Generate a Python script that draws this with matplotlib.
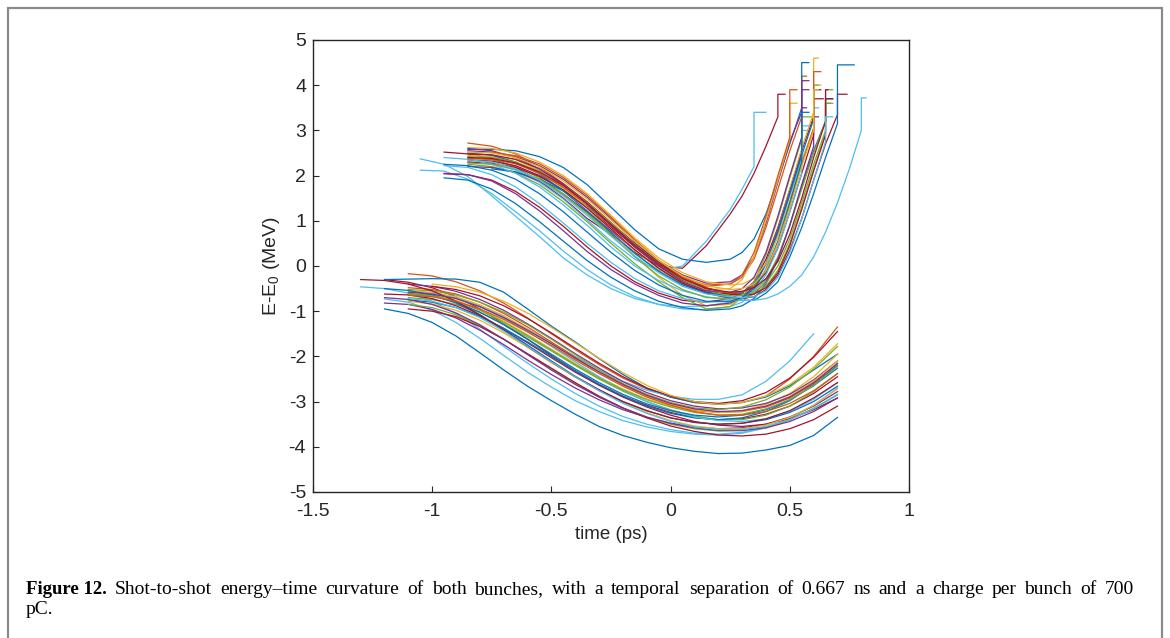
import numpy as np
import matplotlib
matplotlib.use("Agg")
import matplotlib.pyplot as plt
from matplotlib.patches import Rectangle

# -------------------------------
# Data
# -------------------------------
# upper bunch: shared time grid (ps), one row of E-E0 (MeV) per shot
t_up = [-1.05, -0.95, -0.85, -0.75, -0.65, -0.55, -0.45, -0.35, -0.25, -0.15, -0.05,
        0.05, 0.15, 0.25, 0.30, 0.35, 0.40, 0.45, 0.50, 0.55, 0.60, 0.65, 0.70, 0.75, 0.80]
N = None
upper_E = [
    [2.37, 2.25, 1.98, 1.55, 1.10, 0.65, 0.18, -0.20, -0.50, -0.72, -0.85, -0.90, -0.88, -0.80, -0.70, -0.45, 0.05, 0.80, 1.60, 2.40],
    [2.12, 2.10, 1.92, 1.60, 1.20, 0.78, 0.33, -0.08, -0.42, -0.68, -0.85, -0.95, -0.97, -0.90, -0.80, -0.55, -0.05, 0.70, 1.55, 2.35, 3.0],
    [N, 1.95, 1.90, 1.70, 1.38, 0.98, 0.55, 0.12, -0.25, -0.55, -0.78, -0.92, -0.98, -0.95, -0.88, -0.72, -0.40, 0.15, 0.90, 1.75, 2.55, 3.2],
    [N, 2.04, 2.02, 1.90, 1.65, 1.30, 0.88, 0.42, 0.0, -0.35, -0.60, -0.76, -0.80, -0.72, -0.60, -0.35, 0.15, 0.85, 1.70, 2.55, 3.3],
    [N, 2.52, 2.48, 2.38, 2.18, 1.88, 1.50, 1.05, 0.70, 0.30, 0.0, -0.05, 0.45, 1.15, 1.55, 2.05, 2.65, 3.3],
    [N, N, 2.72, 2.65, 2.48, 2.20, 1.82, 1.38, 0.90, 0.42, 0.0, -0.30, -0.45, -0.40, -0.25, 0.15, 0.85, 1.70, 2.55, 3.3],
    [N, N, 2.58, 2.58, 2.55, 2.42, 2.18, 1.80, 1.30, 0.80, 0.38, 0.15, 0.08, 0.15, 0.30, 0.60, 1.15, 1.90, 2.70, 3.5],
    [N, N, 2.55, 2.52, 2.42, 2.22, 1.92, 1.52, 1.05, 0.55, 0.12, -0.20, -0.38, -0.35, -0.20, 0.20, 0.95, 1.85, 2.75, 3.4],
    [N, N, 2.30, 2.26, 2.12, 1.85, 1.48, 1.02, 0.55, 0.15, -0.10, 0.0, 0.55, 1.25, 1.70, 2.20],
    [N, N, 2.40, 2.35, 2.20, 1.95, 1.60, 1.18, 0.72, 0.28, -0.10, -0.40, -0.58, -0.62, -0.62, -0.55, -0.30, 0.20, 0.90, 1.70, 2.50, 3.2],
    [N, N, 2.25, 2.20, 2.06, 1.80, 1.42, 0.98, 0.50, 0.05, -0.35, -0.70, -0.95, -0.90, -0.70, -0.35, 0.25, 1.05, 1.95, 2.80],
    [N, N, N, 2.45, 2.35, 2.12, 1.75, 1.28, 0.75, 0.22, -0.25, -0.65, -0.88, -0.85, -0.72, -0.45, 0.05, 0.80, 1.70, 2.60, 3.4],
    [N, N, 2.20, 2.18, 2.08, 1.88, 1.58, 1.20, 0.78, 0.35, -0.05, -0.38, -0.60, -0.72, -0.72, -0.62, -0.35, 0.15, 0.90, 1.80, 2.65],
    [N, N, 2.30, 2.28, 2.18, 1.98, 1.68, 1.30, 0.86, 0.42, 0.02, -0.32, -0.55, -0.70, -0.72, -0.68, -0.52, -0.20, 0.35, 1.05, 1.90, 2.70, 3.35],
    [N, N, N, 2.15, 2.08, 1.92, 1.66, 1.32, 0.92, 0.50, 0.10, -0.25, -0.52, -0.70, -0.76, -0.76, -0.60, -0.35, 0.20, 0.85, 1.60, 2.40, 3.15],
    [N, 2.40, 2.36, 2.25, 2.05, 1.75, 1.35, 0.90, 0.42, 0.0, -0.32, -0.55, -0.68, -0.75, -0.76, -0.76, -0.72, -0.62, -0.45, -0.20, 0.20, 0.75, 1.40, 2.15, 3.0],
    [N, N, 2.45, 2.42, 2.30, 2.06, 1.72, 1.30, 0.82, 0.35, -0.05, -0.35, -0.52, -0.50, -0.30, 0.20, 1.00, 1.90, 2.80],
    [N, 2.05, 2.02, 1.88, 1.60, 1.22, 0.78, 0.32, -0.08, -0.40, -0.65, -0.82, -0.88, -0.82, -0.70, -0.45, 0.05, 0.80, 1.65, 2.50],
    [N, N, 2.35, 2.32, 2.22, 2.00, 1.68, 1.28, 0.82, 0.36, -0.05, -0.38, -0.58, -0.62, -0.58, -0.45, -0.15, 0.40, 1.20, 2.05, 2.90],
    [N, N, 2.28, 2.25, 2.14, 1.92, 1.58, 1.16, 0.68, 0.20, -0.22, -0.52, -0.70, -0.72, -0.70, -0.62, -0.45, -0.10, 0.50, 1.30, 2.15, 2.95],
    [N, N, 2.50, 2.45, 2.30, 2.04, 1.66, 1.22, 0.74, 0.28, -0.12, -0.42, -0.60, -0.65, -0.60, -0.40, 0.05, 0.75, 1.60, 2.45, 3.25],
    [N, N, 2.38, 2.36, 2.26, 2.05, 1.74, 1.35, 0.90, 0.45, 0.05, -0.25, -0.42, -0.40, -0.20, 0.30, 1.10, 2.00, 2.85],
    [N, 2.22, 2.18, 2.02, 1.75, 1.38, 0.95, 0.50, 0.08, -0.28, -0.55, -0.72, -0.80, -0.78, -0.72, -0.55, -0.20, 0.40, 1.20, 2.05],
    [N, N, 2.48, 2.46, 2.36, 2.15, 1.82, 1.42, 0.96, 0.50, 0.08, -0.25, -0.48, -0.62, -0.65, -0.62, -0.48, -0.15, 0.45, 1.25, 2.10, 2.90],
    [N, N, 2.62, 2.60, 2.50, 2.30, 2.00, 1.60, 1.12, 0.62, 0.18, -0.15, -0.35, -0.42, -0.40, -0.28, 0.05, 0.65, 1.45, 2.30, 3.05],
    [N, N, 2.42, 2.40, 2.30, 2.10, 1.80, 1.40, 0.95, 0.48, 0.05, -0.30, -0.55, -0.66, -0.66, -0.58, -0.38, 0.0, 0.60, 1.40, 2.25, 3.0],
    [N, N, 2.60, 2.55, 2.40, 2.15, 1.80, 1.38, 0.90, 0.42, 0.0, -0.35, -0.55, -0.58, -0.50, -0.25, 0.30, 1.10, 2.00, 2.85],
    [N, N, N, 2.52, 2.44, 2.26, 1.96, 1.56, 1.08, 0.58, 0.12, -0.25, -0.50, -0.60, -0.58, -0.45, -0.12, 0.50, 1.35, 2.25, 3.05],
    [N, 2.25, 2.22, 2.12, 1.92, 1.60, 1.20, 0.75, 0.30, -0.10, -0.42, -0.65, -0.78, -0.78, -0.70, -0.50, -0.10, 0.55, 1.40, 2.30],
    [N, N, 2.40, 2.38, 2.28, 2.08, 1.78, 1.38, 0.92, 0.46, 0.05, -0.28, -0.50, -0.58, -0.56, -0.48, -0.28, 0.10, 0.70, 1.50, 2.40, 3.20],
    [N, N, 2.35, 2.30, 2.15, 1.90, 1.55, 1.12, 0.66, 0.22, -0.15, -0.45, -0.62, -0.68, -0.70, -0.68, -0.55, -0.25, 0.30, 1.05, 1.90, 2.75],
    [N, N, 2.52, 2.50, 2.40, 2.20, 1.88, 1.48, 1.02, 0.55, 0.12, -0.22, -0.44, -0.52, -0.50, -0.40, -0.10, 0.50, 1.30, 2.20, 3.0],
]
# jumps at the high-energy end of each upper trace: level after the jump and end time
upper_jump_E = [3.0, 3.5, 3.7, 3.9, 3.8, 4.2, 4.5, 3.9, 3.4, 3.9, 3.3, 4.6,
                3.3, 3.8, 4.45, 3.72, 3.6, 3.5, 3.7, 3.6, 4.0, 3.9, 3.1, 3.7,
                4.0, 3.6, 4.1, 4.3, 3.4, 3.9, 3.3, 3.9]
upper_jump_t = [0.58, 0.62, 0.68, 0.63, 0.48, 0.57, 0.58, 0.58, 0.40, 0.68, 0.59, 0.62,
                0.62, 0.74, 0.77, 0.82, 0.53, 0.57, 0.64, 0.68, 0.62, 0.53, 0.58, 0.68,
                0.63, 0.67, 0.58, 0.63, 0.58, 0.66, 0.68, 0.62]

# lower bunch
t_low = [-1.3, -1.2, -1.1, -1.0, -0.9, -0.8, -0.7, -0.6, -0.5, -0.4, -0.3,
         -0.2, -0.1, 0.0, 0.1, 0.2, 0.3, 0.4, 0.5, 0.6, 0.7]
lower_E = [
    [N, -0.95, -1.05, -1.25, -1.55, -1.92, -2.30, -2.66, -2.98, -3.28, -3.55, -3.75, -3.90, -4.02, -4.10, -4.15, -4.14, -4.07, -3.97, -3.75, -3.35],
    [-0.46, -0.50, -0.60, -0.78, -1.05, -1.40, -1.78, -2.15, -2.50, -2.82, -3.10, -3.33, -3.50, -3.62, -3.70, -3.72, -3.68, -3.58, -3.40, -3.15, -2.85],
    [N, -0.73, -0.80, -0.98, -1.25, -1.60, -1.98, -2.35, -2.68, -2.98, -3.22, -3.42, -3.56, -3.66, -3.72, -3.74, -3.70, -3.58, -3.38, -3.08, -2.70],
    [N, -0.30, -0.36, -0.48, -0.68, -0.95, -1.28, -1.62, -1.98, -2.32, -2.62, -2.88, -3.08, -3.24, -3.35, -3.40, -3.38, -3.28, -3.10, -2.82, -2.45],
    [N, N, -0.17, -0.22, -0.35, -0.55, -0.82, -1.15, -1.50, -1.85, -2.18, -2.48, -2.72, -2.90, -3.02, -3.06, -3.02, -2.88, -2.50, -2.00, -1.35],
    [N, -0.30, -0.29, -0.28, -0.29, -0.36, -0.58, -0.95, -1.33, -1.68, -2.05, -2.40, -2.70, -2.90, -3.02, -3.05, -3.02, -2.90, -2.65, -2.30, -1.95],
    [N, N, -0.55, -0.60, -0.70, -0.88, -1.12, -1.40, -1.70, -2.00, -2.30, -2.55, -2.75, -2.88, -2.95, -2.95, -2.85, -2.55, -2.10, -1.50],
    [N, -0.82, -0.85, -0.96, -1.15, -1.42, -1.74, -2.08, -2.40, -2.70, -2.96, -3.18, -3.35, -3.48, -3.56, -3.60, -3.58, -3.50, -3.34, -3.10, -2.78],
    [N, N, -0.70, -0.74, -0.85, -1.03, -1.28, -1.57, -1.88, -2.20, -2.50, -2.77, -3.00, -3.18, -3.32, -3.40, -3.40, -3.30, -3.10, -2.78, -2.38],
    [N, N, -0.60, -0.64, -0.76, -0.96, -1.22, -1.52, -1.84, -2.16, -2.46, -2.72, -2.94, -3.10, -3.20, -3.24, -3.20, -3.06, -2.82, -2.45, -1.95],
    [N, -0.62, -0.64, -0.72, -0.88, -1.10, -1.38, -1.70, -2.03, -2.35, -2.64, -2.90, -3.12, -3.30, -3.44, -3.52, -3.55, -3.50, -3.38, -3.18, -2.92],
    [N, N, -0.75, -0.80, -0.92, -1.12, -1.38, -1.68, -2.00, -2.32, -2.62, -2.88, -3.10, -3.26, -3.36, -3.40, -3.36, -3.22, -2.98, -2.62, -2.20],
    [N, N, -0.48, -0.52, -0.62, -0.80, -1.05, -1.35, -1.68, -2.02, -2.35, -2.64, -2.88, -3.06, -3.18, -3.24, -3.22, -3.12, -2.92, -2.60, -2.15],
    [N, N, -0.85, -0.92, -1.08, -1.32, -1.62, -1.95, -2.28, -2.60, -2.90, -3.15, -3.35, -3.50, -3.60, -3.65, -3.64, -3.56, -3.40, -3.15, -2.85],
    [N, N, -0.40, -0.45, -0.56, -0.74, -0.98, -1.28, -1.60, -1.94, -2.26, -2.56, -2.80, -2.98, -3.10, -3.16, -3.14, -3.04, -2.84, -2.52, -2.10],
    [N, N, N, -0.62, -0.72, -0.90, -1.15, -1.45, -1.78, -2.12, -2.45, -2.75, -3.00, -3.20, -3.34, -3.42, -3.44, -3.38, -3.22, -2.95, -2.58],
    [N, N, -0.95, -1.00, -1.12, -1.34, -1.62, -1.94, -2.26, -2.58, -2.88, -3.14, -3.36, -3.54, -3.66, -3.74, -3.76, -3.72, -3.60, -3.40, -3.10],
    [N, N, -0.62, -0.66, -0.80, -1.02, -1.30, -1.62, -1.95, -2.28, -2.58, -2.84, -3.05, -3.20, -3.30, -3.34, -3.30, -3.18, -2.96, -2.65, -2.26],
    [N, N, -0.78, -0.84, -0.98, -1.20, -1.48, -1.80, -2.14, -2.46, -2.76, -3.02, -3.24, -3.42, -3.54, -3.60, -3.60, -3.52, -3.35, -3.08, -2.72],
    [N, N, -0.52, -0.55, -0.64, -0.80, -1.02, -1.30, -1.62, -1.96, -2.30, -2.60, -2.84, -3.02, -3.14, -3.18, -3.12, -2.96, -2.68, -2.28, -1.78],
    [N, N, N, -0.45, -0.52, -0.66, -0.88, -1.16, -1.48, -1.82, -2.15, -2.45, -2.70, -2.88, -3.00, -3.04, -2.98, -2.80, -2.48, -2.02, -1.45],
    [N, -0.70, -0.74, -0.85, -1.04, -1.30, -1.62, -1.96, -2.30, -2.62, -2.90, -3.14, -3.34, -3.48, -3.58, -3.64, -3.64, -3.58, -3.44, -3.22, -2.92],
    [N, N, -0.55, -0.58, -0.68, -0.86, -1.10, -1.40, -1.72, -2.05, -2.36, -2.64, -2.88, -3.06, -3.18, -3.24, -3.22, -3.10, -2.88, -2.55, -2.10],
    [N, -0.50, -0.54, -0.64, -0.82, -1.08, -1.40, -1.75, -2.10, -2.44, -2.74, -3.00, -3.20, -3.36, -3.46, -3.50, -3.48, -3.40, -3.24, -3.00, -2.66],
    [N, N, -0.62, -0.66, -0.78, -0.98, -1.24, -1.54, -1.86, -2.18, -2.48, -2.74, -2.96, -3.12, -3.24, -3.30, -3.28, -3.16, -2.96, -2.64, -2.22],
    [-0.30, -0.32, -0.40, -0.55, -0.78, -1.08, -1.42, -1.78, -2.12, -2.45, -2.74, -3.00, -3.20, -3.36, -3.46, -3.50, -3.48, -3.38, -3.20, -2.92, -2.58],
    [N, N, -0.72, -0.78, -0.92, -1.14, -1.44, -1.78, -2.12, -2.45, -2.76, -3.04, -3.26, -3.44, -3.56, -3.62, -3.62, -3.55, -3.40, -3.16, -2.84],
    [N, N, -0.65, -0.68, -0.78, -0.95, -1.18, -1.46, -1.76, -2.08, -2.38, -2.66, -2.90, -3.08, -3.22, -3.30, -3.30, -3.22, -3.04, -2.76, -2.38],
    [N, N, -0.58, -0.62, -0.72, -0.90, -1.14, -1.42, -1.72, -2.04, -2.34, -2.62, -2.86, -3.04, -3.16, -3.22, -3.20, -3.10, -2.90, -2.58, -2.16],
    [N, N, N, -0.40, -0.46, -0.58, -0.78, -1.04, -1.36, -1.70, -2.04, -2.36, -2.64, -2.86, -3.00, -3.06, -3.02, -2.88, -2.62, -2.24, -1.72],
]

# MATLAB default colour order
mcol = {"b": "#0072BD", "o": "#D95319", "y": "#EDB120", "p": "#7E2F8E",
        "g": "#77AC30", "c": "#4DBEEE", "r": "#A2142F"}
upper_col = ["c", "c", "b", "r", "r", "o", "b", "p", "c", "g", "g", "y",
             "p", "r", "b", "c", "y", "p", "r", "g", "b", "o", "c", "r",
             "y", "g", "p", "o", "b", "r", "c", "y"]
lower_col = ["b", "c", "c", "r", "o", "b", "c", "p", "g", "y", "r",
             "b", "o", "g", "p", "c", "r", "b", "y", "g", "r", "p",
             "y", "b", "g", "r", "c", "o", "p", "y"]

xticks = [-1.5, -1, -0.5, 0, 0.5, 1]
xticklabels = ["-1.5", "-1", "-0.5", "0", "0.5", "1"]
yticks = [-5, -4, -3, -2, -1, 0, 1, 2, 3, 4, 5]
caption_bold = "Figure 12."
caption_1 = ("Shot-to-shot energy\u2013time curvature of both bunches, with a temporal "
             "separation of 0.667 ns and a charge per bunch of 700")
caption_2 = "pC."

# -------------------------------
# Plot
# -------------------------------
plt.rcParams["font.family"] = ["Liberation Sans", "DejaVu Sans"]
plt.rcParams["mathtext.default"] = "regular"

W, H = 1170, 638
fig = plt.figure(figsize=(W / 100, H / 100), dpi=100)
ax = fig.add_axes([313 / W, 1 - 492 / H, 596 / W, 452 / H])

t_up_arr = np.array(t_up)
for row, top, t_end, c in zip(upper_E, upper_jump_E, upper_jump_t, upper_col):
    e = np.full(len(t_up), np.nan)
    e[:len(row)] = np.array(row, dtype=float)
    ok = ~np.isnan(e)
    tt = list(t_up_arr[ok])
    ee = list(e[ok])
    tt += [tt[-1], t_end]
    ee += [top, top]
    ax.plot(tt, ee, color=mcol[c], lw=0.9)

t_low_arr = np.array(t_low)
for row, c in zip(lower_E, lower_col):
    e = np.full(len(t_low), np.nan)
    e[:len(row)] = np.array(row, dtype=float)
    ok = ~np.isnan(e)
    ax.plot(t_low_arr[ok], e[ok], color=mcol[c], lw=0.9)

ax.set_xlim(-1.5, 1)
ax.set_ylim(-5, 5)
ax.set_xticks(xticks)
ax.set_xticklabels(xticklabels)
ax.set_yticks(yticks)
ax.set_yticklabels([str(v) for v in yticks])
ax.tick_params(direction="in", length=4.5, width=0.8, colors="#262626",
               labelsize=14, top=False, right=False)
ax.tick_params(axis="x", pad=8)
ax.tick_params(axis="y", pad=5)
for s in ax.spines.values():
    s.set_linewidth(1.0)
    s.set_color("#262626")
ax.set_xlabel("time (ps)", fontsize=13.5, color="#262626", labelpad=4)
ax.set_ylabel("E-E$_0$ (MeV)", fontsize=14, color="#262626", labelpad=5)

# outer frame of the figure panel
fig.patches.append(Rectangle((8 / W, -0.05), 1154 / W, 1.05 - 8 / H, transform=fig.transFigure,
                             fill=False, edgecolor="#8a8a8a", lw=1.6))

# caption, first line justified to the panel width
serif = ["Liberation Serif", "DejaVu Serif"]
renderer = fig.canvas.get_renderer()
y1 = 1 - 594 / H
right_px = 1134
tb = fig.text(26 / W, y1, caption_bold, family=serif, fontweight="bold", fontsize=13.5, va="baseline")
x_px = tb.get_window_extent(renderer).x1
words = [fig.text(0, y1, w, family=serif, fontsize=14, va="baseline") for w in caption_1.split(" ")]
widths = [w.get_window_extent(renderer).width for w in words]
gap = (right_px - x_px - sum(widths)) / len(words)
for w, wd in zip(words, widths):
    x_px += gap
    w.set_x(x_px / W)
    x_px += wd
fig.text(26 / W, 1 - 614 / H, caption_2, family=serif, fontsize=14, va="baseline")

fig.savefig("out.png", dpi=100)
